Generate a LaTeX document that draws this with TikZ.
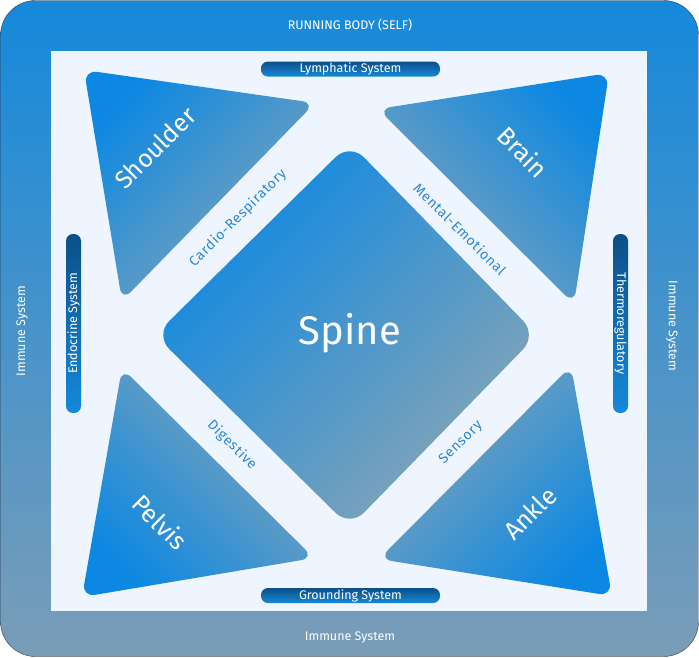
\documentclass[tikz,border=0pt]{standalone}
\usepackage{fontspec}
\setmainfont{Fira Sans}
\usetikzlibrary{positioning}
\definecolor{brightblue}{HTML}{0D88E2}
\definecolor{slateblue}{HTML}{86A5B6}
\definecolor{topblue}{HTML}{1589DB}
\definecolor{bottomblue}{HTML}{7A9DB8}
\definecolor{paleblue}{HTML}{EEF5FE}
\definecolor{navyblue}{HTML}{0B4F88}
\definecolor{labelblue}{HTML}{2C88D6}
\definecolor{frameline}{HTML}{2B3C4F}

\begin{document}
\begin{tikzpicture}[x=1pt, y=-1pt,
    part/.style ={rounded corners=13pt, top color=brightblue, bottom color=slateblue},
    pill/.style ={rectangle, rounded corners=7pt, minimum width=179pt, minimum height=15pt,
                  inner sep=0pt, top color=navyblue, bottom color=topblue,
                  text=white, font=\fontsize{12.5}{12.5}\selectfont},
    organ/.style={text=white, font=\fontsize{25}{25}\selectfont},
    link/.style ={text=labelblue, font=\fontsize{14}{14}\selectfont\addfontfeature{LetterSpace=5}},
    frame/.style={text=white, font=\fontsize{12.5}{12.5}\selectfont}]

    \useasboundingbox (0,0) rectangle (699,657);

    % marco exterior y fondo
    \path[draw=frameline, top color=topblue, bottom color=bottomblue, rounded corners=35pt]
        (0.5,0.5) rectangle (698.5,656.5);
    \fill[paleblue] (51,51) rectangle (647,611);

    % partes del cuerpo
    \path[part, shading angle=45, rounded corners=20pt] (350,143) -- (537,335) -- (350,527) -- (155,335) -- cycle;
    \path[part, shading angle=45]   (84,70) -- (315,103) -- (122,301) -- cycle;
    \path[part, shading angle=-45]  (609,73) -- (378,109) -- (574,304) -- cycle;
    \path[part, shading angle=135]  (82,597) -- (314,558) -- (122,368) -- cycle;
    \path[part, shading angle=-135] (612,596) -- (379,559) -- (571,366) -- cycle;

    \node[organ, font=\fontsize{40}{40}\selectfont] (spine) at (350,333) {Spine};
    \node[organ, rotate=45]  (shoulder) at (155,148) {Shoulder};
    \node[organ, rotate=-45] (brain)    at (523,152) {Brain};
    \node[organ, rotate=-45] (pelvis)   at (160,522) {Pelvis};
    \node[organ, rotate=45]  (ankle)    at (530,513) {Ankle};

    % conexiones
    \node[link, rotate=45]  (cardio)  at (238,218) {Cardio-Respiratory};
    \node[link, rotate=-45] (mental)  at (460,229) {Mental-Emotional};
    \node[link, rotate=-45] (digest)  at (232,445) {Digestive};
    \node[link, rotate=45]  (sensory) at (461,443) {Sensory};

    % sistemas
    \node[pill] (lymph)  at (350.5,69)  {Lymphatic System};
    \node[pill] (ground) at (350.5,595.5) {Grounding System};
    \node[pill, rotate=90]  (endo)   at (73.5,323.5)  {Endocrine System};
    \node[pill, rotate=-90] (thermo) at (620.5,323.5) {Thermoregulatory};

    \node[frame] (self)    at (350,25)  {RUNNING BODY (SELF)};
    \node[frame, rotate=90]  (immuneL) at (22,331)  {Immune System};
    \node[frame, rotate=-90] (immuneR) at (672,326) {Immune System};
    \node[frame] (immuneB) at (350,637) {Immune System};

\end{tikzpicture}
\end{document}
